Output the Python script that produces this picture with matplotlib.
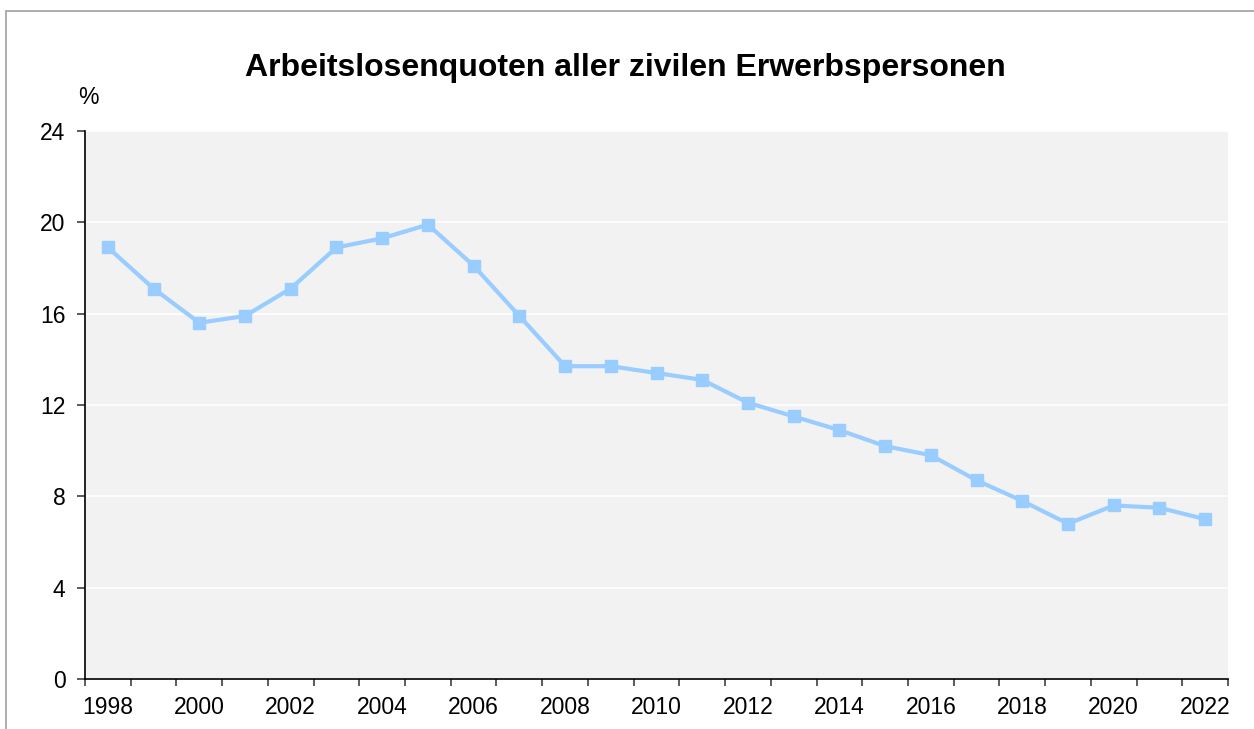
import matplotlib.pyplot as plt
from matplotlib.patches import Rectangle

plt.rcParams['font.family'] = ['Liberation Sans', 'DejaVu Sans']

# Daten
jahre = list(range(1998, 2023))
quoten = [18.9, 17.1, 15.6, 15.9, 17.1, 18.9, 19.3, 19.9, 18.1, 15.9,
          13.7, 13.7, 13.4, 13.1, 12.1, 11.5, 10.9, 10.2, 9.8, 8.7,
          7.8, 6.8, 7.6, 7.5, 7.0]
y_ticks = [0, 4, 8, 12, 16, 20, 24]
titel = "Arbeitslosenquoten aller zivilen Erwerbspersonen"

W, H = 1254, 729
fig = plt.figure(figsize=(W / 100, H / 100), dpi=100)

# grauer Rahmen um die Grafik
fig.patches.append(Rectangle((6 / W, -0.1), 1.2, 1 - 11 / H + 0.1,
                             transform=fig.transFigure, fill=False,
                             edgecolor='#a0a0a0', linewidth=1.2))

ax = fig.add_axes([85 / W, 1 - 679 / H, (1228 - 85) / W, (679 - 131) / H])
ax.set_facecolor('#f2f2f2')

x = list(range(len(jahre)))
ax.plot(x, quoten, color='#99ccff', linewidth=3, marker='s', markersize=8,
        zorder=3)

ax.set_xlim(-0.5, len(jahre) - 0.5)
ax.set_ylim(0, 24)

# Striche an den Kategoriegrenzen, Beschriftung jedes zweite Jahr
ax.set_xticks([i - 0.5 for i in range(len(jahre) + 1)])
ax.set_xticklabels([])
ax.set_xticks(x[::2], minor=True)
ax.set_xticklabels([str(j) for j in jahre[::2]], minor=True)
ax.tick_params(axis='x', which='minor', length=0, labelsize=16.5, pad=12)
ax.tick_params(axis='x', which='major', length=5, width=1.2, color='#404040',
               direction='out')

ax.set_yticks(y_ticks)
ax.tick_params(axis='y', length=6, width=1.2, color='#404040', labelsize=16.5,
               pad=8)

ax.grid(axis='y', color='white', linewidth=1.2)
ax.set_axisbelow(True)
for s in ['top', 'right']:
    ax.spines[s].set_visible(False)
for s in ['left', 'bottom']:
    ax.spines[s].set_linewidth(1.2)

fig.text(625 / W, 1 - 68 / H, titel, ha='center', va='center',
         fontsize=23, fontweight='bold')
fig.text(78 / W, 1 - 97 / H, '%', ha='left', va='center', fontsize=16.5)

fig.savefig('out.png', dpi=100)
